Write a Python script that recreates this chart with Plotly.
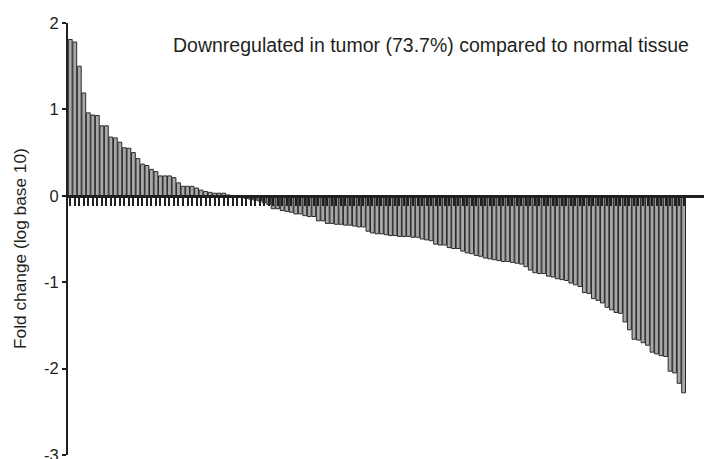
import plotly.graph_objects as go

positive_values = [1.81, 1.78, 1.50, 1.19, 0.96, 0.935, 0.93, 0.81, 0.81, 0.68, 0.67, 0.62,
                   0.556, 0.55, 0.50, 0.43, 0.367, 0.35, 0.306, 0.28, 0.23, 0.23, 0.23, 0.21,
                   0.15, 0.11, 0.11, 0.11, 0.09, 0.066, 0.05, 0.04, 0.03, 0.03, 0.03, 0.01]
negative_values = [-0.01, -0.02, -0.02, -0.03, -0.04, -0.05, -0.06, -0.08, -0.10, -0.15,
                   -0.15, -0.17, -0.18, -0.19, -0.21, -0.21, -0.23, -0.24, -0.24, -0.29,
                   -0.29, -0.32, -0.32, -0.33, -0.33, -0.34, -0.34, -0.35, -0.36, -0.36,
                   -0.41, -0.43, -0.44, -0.44, -0.45, -0.46, -0.46, -0.47, -0.47, -0.47,
                   -0.48, -0.48, -0.50, -0.51, -0.52, -0.56, -0.57, -0.57, -0.60, -0.61,
                   -0.61, -0.64, -0.66, -0.67, -0.69, -0.70, -0.72, -0.73, -0.74, -0.75,
                   -0.76, -0.76, -0.77, -0.78, -0.79, -0.82, -0.86, -0.89, -0.90, -0.90,
                   -0.93, -0.94, -0.96, -0.97, -0.98, -1.01, -1.03, -1.05, -1.12, -1.13,
                   -1.19, -1.21, -1.24, -1.29, -1.32, -1.35, -1.36, -1.46, -1.55, -1.66,
                   -1.67, -1.70, -1.73, -1.81, -1.83, -1.85, -1.86, -2.03, -2.05, -2.17,
                   -2.28]
fold_change = positive_values + negative_values
samples = list(range(len(fold_change)))

y_tick_vals = [2, 1, 0, -1, -2, -3]
y_tick_text = ["2", "1", "0", "-1", "-2", "-3"]

annotation_text = "Downregulated in tumor (73.7%) compared to normal tissue"
y_title = "Fold change (log base 10)"

INK = "#231f20"
FONT = "Liberation Sans, Arial, Helvetica, sans-serif"

fig = go.Figure()
fig.add_trace(go.Bar(
    x=samples, y=fold_change,
    marker=dict(color="#a8a8a8", line=dict(color="#2a2a2a", width=1)),
    width=0.85,
))

# The page body adds an 8px offset, margins compensate for it.
fig.update_layout(
    width=712, height=459,
    margin=dict(l=60, r=8, t=15, b=12, autoexpand=False),
    paper_bgcolor="white", plot_bgcolor="white",
    showlegend=False,
    font=dict(family=FONT, color=INK, size=17),
    bargap=0.1,
    xaxis=dict(
        range=[-0.5, 142.3],
        anchor="free", position=0.6,
        showline=True, linecolor=INK, linewidth=3,
        ticks="outside", tickvals=samples, ticklen=8, tickwidth=1.6, tickcolor=INK,
        showticklabels=False, showgrid=False, zeroline=False,
        layer="above traces", automargin=False,
    ),
    yaxis=dict(
        range=[-3, 2],
        showline=True, linecolor=INK, linewidth=2,
        ticks="outside", tickvals=y_tick_vals, ticktext=y_tick_text,
        ticklen=4, tickwidth=2, tickcolor=INK,
        tickfont=dict(size=16.5, family=FONT, color=INK),
        showgrid=False, zeroline=False, automargin=False,
    ),
    annotations=[
        dict(
            text=annotation_text, xref="paper", yref="paper",
            x=0.563, y=0.949, xanchor="center", yanchor="middle",
            showarrow=False, font=dict(size=19.5, family=FONT, color=INK),
        ),
        dict(
            text=y_title, xref="paper", yref="paper", textangle=-90,
            x=-0.0745, y=0.477, xanchor="center", yanchor="middle",
            showarrow=False, font=dict(size=17.3, family=FONT, color=INK),
        ),
    ],
)

fig.write_html("out.html")
